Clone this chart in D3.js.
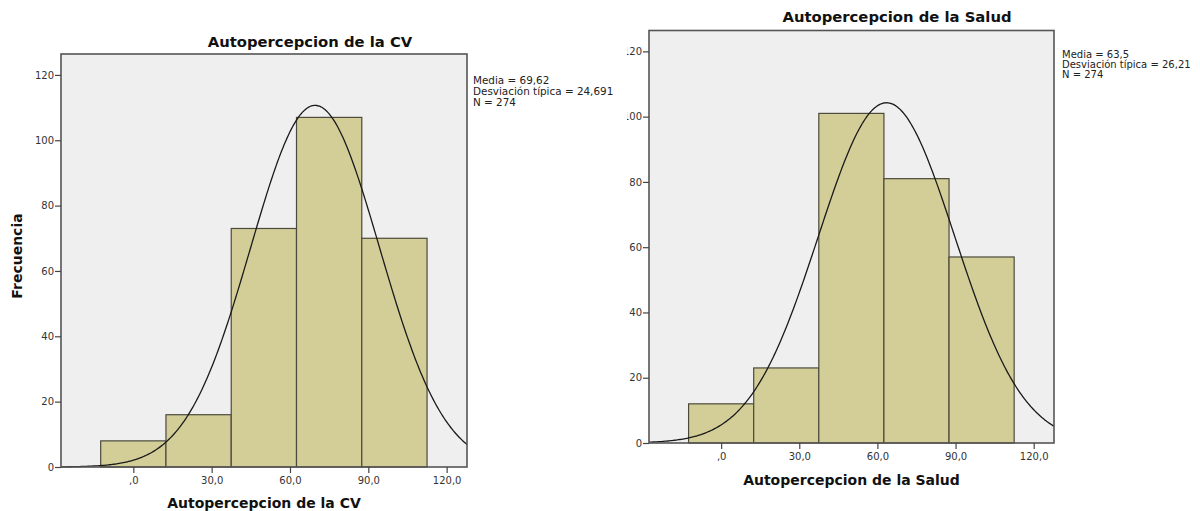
<!DOCTYPE html>
<html><head><meta charset="utf-8">
<script src="https://cdn.jsdelivr.net/npm/d3@7"></script>
<style>body{margin:0;background:#fff}svg{display:block}</style>
</head><body>
<svg id="c" width="1200" height="511"></svg>
<script>
// ---- data ----
const binEdges = [-12.5, 12.5, 37.5, 62.5, 87.5, 112.5];
const cvCounts = [8, 16, 73, 107, 70];
const saludCounts = [12, 23, 101, 81, 57];
const xTickValues = [0, 30, 60, 90, 120];
const xTickLabels = [",0", "30,0", "60,0", "90,0", "120,0"];
const yTickValues = [0, 20, 40, 60, 80, 100, 120];
const cvStats = {mean: 69.62, sd: 24.691, n: 274};
const saludStats = {mean: 63.5, sd: 26.21, n: 274};
const cvLegend = ["Media = 69,62", "Desviación típica = 24,691", "N = 274"];
const saludLegend = ["Media = 63,5", "Desviación típica = 26,21", "N = 274"];
const cvTitle = "Autopercepcion de la CV";
const saludTitle = "Autopercepcion de la Salud";
const yTitle = "Frecuencia";

const svg = d3.select("#c");
const FONT = "DejaVu Sans, sans-serif";

svg.append("defs").append("clipPath").attr("id","rclip")
  .append("rect").attr("x",627).attr("y",0).attr("width",573).attr("height",511);

function panel(g, cfg){
  const x = d3.scaleLinear().domain([-27.7, 127.8]).range([cfg.left, cfg.right]);
  const y = d3.scaleLinear().domain([0, 126.4]).range([cfg.bottom, cfg.top]);
  g.append("rect").attr("x",cfg.left).attr("y",cfg.top)
    .attr("width",cfg.right-cfg.left).attr("height",cfg.bottom-cfg.top)
    .attr("fill","#efefef");
  const bins = cfg.counts.map((c,i)=>({x0:binEdges[i], x1:binEdges[i+1], c}));
  g.selectAll("rect.bar").data(bins).join("rect").attr("class","bar")
    .attr("x",d=>x(d.x0)).attr("width",d=>x(d.x1)-x(d.x0))
    .attr("y",d=>y(d.c)).attr("height",d=>y(0)-y(d.c))
    .attr("fill","#d3ce98").attr("stroke","#4b4a3c").attr("stroke-width",1.2);
  // fitted normal curve from the legend's mean, sd and N
  const bw = binEdges[1]-binEdges[0];
  const s = cfg.stats;
  const pts = d3.range(0,301).map(i=>{
    const v = -27.7 + i*(127.8+27.7)/300;
    const f = s.n*bw/(s.sd*Math.sqrt(2*Math.PI))*Math.exp(-0.5*Math.pow((v-s.mean)/s.sd,2));
    return [v,f];
  });
  g.append("path").datum(pts)
    .attr("d", d3.line().x(d=>x(d[0])).y(d=>y(Math.min(d[1],126.4))))
    .attr("fill","none").attr("stroke","#1a1a1a").attr("stroke-width",1.3);
  g.append("rect").attr("x",cfg.left).attr("y",cfg.top)
    .attr("width",cfg.right-cfg.left).attr("height",cfg.bottom-cfg.top)
    .attr("fill","none").attr("stroke","#555").attr("stroke-width",1.6);
  const xa = g.append("g").attr("transform",`translate(0,${cfg.bottom})`)
    .call(d3.axisBottom(x).tickValues(xTickValues).tickFormat((d,i)=>xTickLabels[i]).tickSize(6).tickPadding(4));
  const ya = g.append("g").attr("transform",`translate(${cfg.left},0)`)
    .call(d3.axisLeft(y).tickValues(yTickValues).tickSize(6).tickPadding(1));
  [xa,ya].forEach(a=>{
    a.select(".domain").remove();
    a.selectAll("line").attr("stroke","#444").attr("stroke-width",1.2);
    a.selectAll("text").attr("fill","#333").style("font-family",FONT).style("font-size","10px");
  });
  g.append("text").attr("x",cfg.titleX).attr("y",cfg.titleY).attr("text-anchor","middle")
    .style("font-family",FONT).style("font-weight","bold").style("font-size","14.8px").attr("fill","#111")
    .text(cfg.title);
  g.append("text").attr("x",(cfg.left+cfg.right)/2).attr("y",cfg.xTitleY).attr("text-anchor","middle")
    .style("font-family",FONT).style("font-weight","bold").style("font-size","14px").attr("fill","#111")
    .text(cfg.title);
  g.selectAll("text.leg").data(cfg.legend).join("text").attr("class","leg")
    .attr("x",cfg.legX).attr("y",(d,i)=>cfg.legY+i*cfg.legDy)
    .style("font-family",FONT).style("font-size",cfg.legFs).attr("fill","#222")
    .text(d=>d);
}

const gl = svg.append("g");
panel(gl, {left:61, right:467, top:54, bottom:467, counts:cvCounts, stats:cvStats,
  title:cvTitle, titleX:310, titleY:47, xTitleY:508, legend:cvLegend, legX:473, legY:84, legDy:10.8, legFs:"10.4px"});
gl.append("text").attr("transform","translate(22,256) rotate(-90)").attr("text-anchor","middle")
  .style("font-family",FONT).style("font-weight","bold").style("font-size","14px").attr("fill","#111")
  .text(yTitle);

const gr = svg.append("g").attr("clip-path","url(#rclip)");
panel(gr, {left:649, right:1054, top:30.5, bottom:443, counts:saludCounts, stats:saludStats,
  title:saludTitle, titleX:897, titleY:22, xTitleY:485, legend:saludLegend, legX:1062, legY:57.5, legDy:10.2, legFs:"10px"});
</script>
</body></html>
